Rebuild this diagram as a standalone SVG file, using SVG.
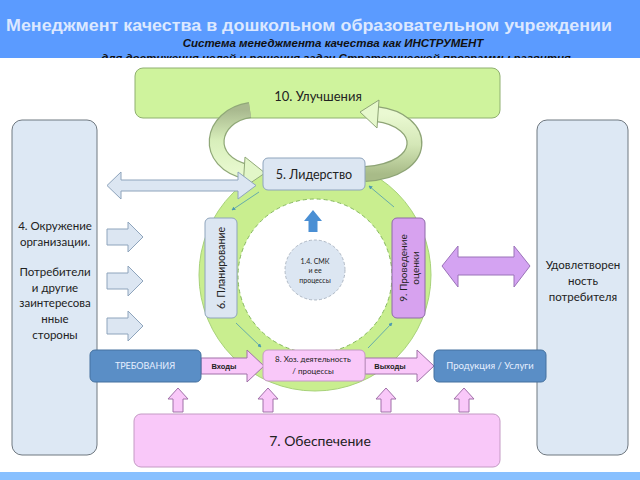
<svg xmlns="http://www.w3.org/2000/svg" width="640" height="480" viewBox="0 0 640 480">
<defs>
<style>
.t{font-family:Lato,"Open Sans","Liberation Sans",sans-serif;fill:#222;text-anchor:middle}
.blue{fill:#dce6f2;stroke:#8ea4bc;stroke-width:1}
.side{fill:#dde8f4;stroke:#6f7880;stroke-width:1}
.pink{fill:#f9c8f9;stroke:#c49ac4;stroke-width:1}
.steel{fill:#5a8ec6;stroke:#44719f;stroke-width:1}
.arrL{fill:#dce6f2;stroke:#8ea4bc;stroke-width:1}
.arrP{fill:#f9c8f9;stroke:#a070a8;stroke-width:1}
.thin{stroke:#4d9ab0;stroke-width:0.8;fill:none;marker-end:url(#mh)}
</style>
<marker id="mh" viewBox="0 0 6 6" refX="5" refY="3" markerWidth="5" markerHeight="5" orient="auto"><path d="M0,0 L6,3 L0,6 z" fill="#4d9ab0"/></marker>
<linearGradient id="gl" x1="0" y1="0" x2="0" y2="1"><stop offset="0" stop-color="#a9b98f"/><stop offset="0.5" stop-color="#d8efbb"/><stop offset="1" stop-color="#e8f9cf"/></linearGradient>
<linearGradient id="gr" x1="0" y1="0" x2="0" y2="1"><stop offset="0" stop-color="#eaf9d2"/><stop offset="0.5" stop-color="#d5e8b8"/><stop offset="1" stop-color="#a8bb88"/></linearGradient>
</defs>
<rect width="640" height="480" fill="#ffffff"/>
<g id="header">
<rect x="0" y="0" width="640" height="58" fill="#5b9bff"/>
<text x="6" y="31" font-family="'Liberation Sans',Arial,sans-serif" font-weight="bold" font-size="16.5" fill="#dce8ff" textLength="606" lengthAdjust="spacingAndGlyphs">Менеджмент качества в дошкольном образовательном учреждении</text>
<text x="333" y="47" font-family="'Liberation Sans',Arial,sans-serif" font-weight="bold" font-style="italic" font-size="11.5" fill="#111" text-anchor="middle">Система менеджмента качества как ИНСТРУМЕНТ</text>
<text x="336" y="62" font-family="'Liberation Sans',Arial,sans-serif" font-weight="bold" font-style="italic" font-size="11.5" fill="#111" text-anchor="middle">для достижения целей и решения задач Стратегической программы развития</text>
<rect x="0" y="58" width="640" height="414" fill="#ffffff"/>
<rect x="0" y="472" width="640" height="8" fill="#88c0ff"/>
</g>
<g id="ring">
<circle cx="315" cy="275" r="116" fill="#c9ee8f" stroke="#a8d27a" stroke-width="1"/>
<circle cx="315" cy="276" r="77" fill="#ffffff" stroke="#86b860" stroke-width="1" stroke-dasharray="4 3"/>
</g>
<g id="n10">
<rect x="135" y="68" width="365" height="50" rx="8" fill="#cff39d" stroke="#8fb070" stroke-width="1"/>
<text class="t" x="318" y="101" font-size="13">10. Улучшения</text>
</g>
<g id="n4">
<rect class="side" x="12" y="120" width="85" height="335" rx="10"/>
<text class="t" font-size="11.5"><tspan x="55" y="230">4. Окружение</tspan><tspan x="55" y="246">организации.</tspan><tspan x="55" y="276">Потребители</tspan><tspan x="55" y="292">и другие</tspan><tspan x="55" y="307">заинтересова</tspan><tspan x="55" y="323">нные</tspan><tspan x="55" y="339">стороны</tspan></text>
</g>
<g id="satisfaction">
<rect class="side" x="537" y="120" width="91" height="335" rx="10"/>
<text class="t" font-size="11.5"><tspan x="583" y="269">Удовлетворен</tspan><tspan x="583" y="285">ность</tspan><tspan x="583" y="301">потребителя</tspan></text>
</g>
<g id="connectors">
<path d="M250,110 C210,116 202,162 248,172" fill="none" stroke="#90a878" stroke-width="16"/>
<path d="M250,110 C210,116 202,162 248,172" fill="none" stroke="url(#gl)" stroke-width="13.5"/>
<polygon points="245,157 265,173 243,188" fill="#e2f6c8" stroke="#90a878" stroke-width="1"/>
<path d="M365,174 C430,170 428,120 376,114" fill="none" stroke="#8ea476" stroke-width="16"/>
<path d="M365,174 C430,170 428,120 376,114" fill="none" stroke="url(#gr)" stroke-width="13.5"/>
<polygon points="379,100 360,112 377,128" fill="#e6f8cc" stroke="#8ea476" stroke-width="1"/>
<polygon class="arrL" points="107,185.5 121,172 121,180 238,180 238,172 256,185.5 238,199 238,191 121,191 121,199"/>
<polygon class="arrL" points="107,229 128,229 128,222 143,237 128,252 128,245 107,245"/>
<polygon class="arrL" points="107,273 128,273 128,266 143,281 128,296 128,289 107,289"/>
<polygon class="arrL" points="107,318 128,318 128,311 143,326 128,341 128,334 107,334"/>
<polygon points="442,266 458,246 458,257 514,257 514,246 530,266 514,287 514,275 458,275 458,287" fill="#d4a3f2" stroke="#9a72b8" stroke-width="1"/>
<polygon class="arrP" points="201,358 247,358 247,350 264,366 247,382 247,374 201,374"/>
<polygon class="arrP" points="365,358 417,358 417,350 434,366 417,382 417,374 365,374"/>
<text x="224" y="369" font-family="'Liberation Sans',Arial,sans-serif" font-weight="bold" font-size="7.5" fill="#222" text-anchor="middle">Входы</text>
<text x="390" y="369" font-family="'Liberation Sans',Arial,sans-serif" font-weight="bold" font-size="7.5" fill="#222" text-anchor="middle">Выходы</text>
<polygon class="arrP" points="178,388 188,399 183,399 183,412 173,412 173,399 168,399"/>
<polygon class="arrP" points="268,388 278,399 273,399 273,412 263,412 263,399 258,399"/>
<polygon class="arrP" points="386,388 396,399 391,399 391,412 381,412 381,399 376,399"/>
<polygon class="arrP" points="464,388 474,399 469,399 469,412 459,412 459,399 454,399"/>
<polygon points="313,210 322,221 317.5,221 317.5,232 308.5,232 308.5,221 304,221" fill="#4a8fd4"/>
<line class="thin" x1="259" y1="192" x2="232" y2="210"/>
<line class="thin" x1="236" y1="323" x2="261" y2="347"/>
<line class="thin" x1="368" y1="348" x2="392" y2="323"/>
<line class="thin" x1="394" y1="207" x2="369" y2="186"/>
</g>
<g id="n5">
<rect class="blue" x="263" y="158" width="102" height="32" rx="5"/>
<text class="t" x="314" y="179" font-size="12.5">5. Лидерство</text>
</g>
<g id="n6">
<rect class="blue" x="205" y="218" width="32" height="100" rx="5"/>
<text class="t" font-size="10.5" transform="translate(225,268) rotate(-90)">6. Планирование</text>
</g>
<g id="n9">
<rect x="392" y="218" width="33" height="100" rx="5" fill="#d7a2ef" stroke="#8e6aa8" stroke-width="1"/>
<text class="t" font-size="10" transform="translate(408,268) rotate(-90)"><tspan x="0" y="-1">9. Проведение</tspan><tspan x="0" y="11">оценки</tspan></text>
</g>
<g id="n14">
<circle cx="315" cy="270" r="30" fill="#dce6f2" stroke="#a0aab8" stroke-width="0.8" stroke-dasharray="3 2"/>
<text class="t" font-size="7"><tspan x="315" y="264">1.4. СМК</tspan><tspan x="315" y="273">и ее</tspan><tspan x="315" y="283">процессы</tspan></text>
</g>
<g id="n8">
<rect class="pink" x="263" y="350" width="102" height="31" rx="5"/>
<text class="t" font-size="8"><tspan x="313" y="362">8. Хоз. деятельность</tspan><tspan x="313" y="374">/ процессы</tspan></text>
</g>
<g id="req">
<rect class="steel" x="90" y="350" width="111" height="32" rx="5"/>
<text class="t" x="145" y="369" font-size="9" style="fill:#e6eeff">ТРЕБОВАНИЯ</text>
</g>
<g id="prod">
<rect class="steel" x="434" y="350" width="112" height="32" rx="5"/>
<text class="t" x="490" y="369" font-size="9.5" style="fill:#e6eeff">Продукция / Услуги</text>
</g>
<g id="n7">
<rect class="pink" x="134" y="414" width="366" height="53" rx="7"/>
<text class="t" x="320" y="446" font-size="14">7. Обеспечение</text>
</g>
</svg>
